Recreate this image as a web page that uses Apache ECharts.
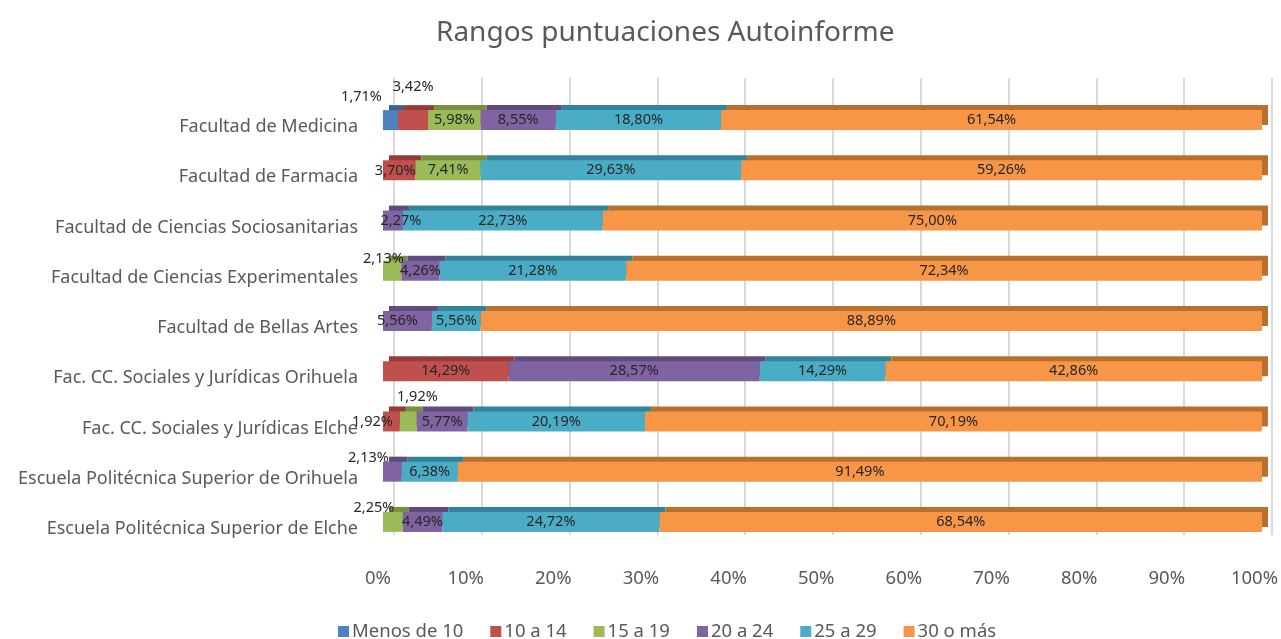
<!DOCTYPE html>
<html>
<head>
<meta charset="utf-8">
<script src="https://cdn.jsdelivr.net/npm/echarts@6/dist/echarts.min.js"></script>
<style>
	html, body { margin: 0; padding: 0; background: #fff; }
	#main { width: 1281px; height: 639px; }
</style>
</head>
<body>
<div id="main"></div>
<script>
var categorias = [
	'Facultad de Medicina',
	'Facultad de Farmacia',
	'Facultad de Ciencias Sociosanitarias',
	'Facultad de Ciencias Experimentales',
	'Facultad de Bellas Artes',
	'Fac. CC. Sociales y Jurídicas Orihuela',
	'Fac. CC. Sociales y Jurídicas Elche',
	'Escuela Politécnica Superior de Orihuela',
	'Escuela Politécnica Superior de Elche'
];
var rangos = ['Menos de 10', '10 a 14', '15 a 19', '20 a 24', '25 a 29', '30 o más'];
var menos10 = [1.71, 0, 0, 0, 0, 0, 0, 0, 0];
var r10a14 = [3.42, 3.70, 0, 0, 0, 14.29, 1.92, 0, 0];
var r15a19 = [5.98, 7.41, 0, 2.13, 0, 0, 1.92, 0, 2.25];
var r20a24 = [8.55, 0, 2.27, 4.26, 5.56, 28.57, 5.77, 2.13, 4.49];
var r25a29 = [18.80, 29.63, 22.73, 21.28, 5.56, 14.29, 20.19, 6.38, 24.72];
var r30mas = [61.54, 59.26, 75.00, 72.34, 88.89, 42.86, 70.19, 91.49, 68.54];
var ticksX = [0, 10, 20, 30, 40, 50, 60, 70, 80, 90, 100];

var valores = [menos10, r10a14, r15a19, r20a24, r25a29, r30mas];
var colores = ['#4f81bd', '#c0504d', '#9bbb59', '#8064a2', '#4bacc6', '#f79646'];
var sombras = ['#3a6392', '#953b39', '#77903f', '#604b7c', '#31849b', '#b8702f'];

// etiquetas que Excel saca fuera del segmento (serie|categoria)
var desplaz = {
	'0|0': [-29, -23],
	'1|0': [0, -33],
	'1|1': [-4, 1],
	'2|3': [-9, -12],
	'3|2': [8, 0],
	'3|4': [-10, 0],
	'1|6': [-19, 0],
	'2|6': [9, -25],
	'3|7': [-24, -14],
	'2|8': [-19, -14]
};

function fmt(v) {
	return v.toFixed(2).replace('.', ',') + '%';
}

var series = valores.map(function (arr, s) {
	return {
		name: rangos[s],
		type: 'bar',
		stack: 'total',
		xAxisIndex: 0,
		yAxisIndex: 0,
		barWidth: 20,
		itemStyle: {
			color: colores[s],
			shadowColor: sombras[s],
			shadowOffsetX: 6,
			shadowOffsetY: -5,
			shadowBlur: 0
		},
		label: {
			show: true,
			position: 'inside',
			color: '#262626',
			fontFamily: 'Noto Sans',
			fontSize: 14.5,
			formatter: function (p) { return fmt(p.value); }
		},
		data: arr.map(function (v, c) {
			if (!v) return '-';
			var off = desplaz[s + '|' + c];
			if (off) return { value: v, label: { offset: off } };
			return v;
		})
	};
});

var myChart = echarts.init(document.getElementById('main'));

var option = {
	animation: false,
	backgroundColor: '#fff',
	title: {
		text: 'Rangos puntuaciones Autoinforme',
		left: 431,
		top: 14,
		textStyle: { fontFamily: 'Noto Sans', fontSize: 28, fontWeight: 'normal', color: '#595959' }
	},
	legend: {
		top: 617,
		left: 333,
		itemWidth: 11,
		itemHeight: 11,
		itemGap: 27,
		icon: 'rect',
		textStyle: { fontFamily: 'Noto Sans', fontSize: 18.5, color: '#595959', padding: [0, 0, 0, -2] },
		itemStyle: { shadowColor: 'transparent', shadowOffsetX: 0, shadowOffsetY: 0 },
		data: rangos
	},
	grid: [
		{ left: 383, right: 19, top: 95, bottom: 92 },
		{ left: 394, right: 9, top: 78, bottom: 104 },
		{ left: 378, right: 26, top: 78, bottom: 79 }
	],
	xAxis: [
		{ gridIndex: 0, type: 'value', min: 0, max: 100, show: false },
		{ gridIndex: 1, type: 'value', min: 0, max: 100, interval: 10,
			axisLine: { show: false }, axisTick: { show: false }, axisLabel: { show: false },
			splitLine: { show: true, lineStyle: { color: '#d9d9d9', width: 2 } } },
		{ gridIndex: 2, type: 'value', min: 0, max: 100, interval: 10,
			axisLine: { show: false }, axisTick: { show: false }, splitLine: { show: false },
			axisLabel: { margin: 9, color: '#595959', fontFamily: 'Noto Sans', fontSize: 18.5,
				formatter: function (v) { return ticksX.indexOf(v) >= 0 ? v + '%' : ''; } } }
	],
	yAxis: [
		{ gridIndex: 0, type: 'category', inverse: true, data: categorias,
			axisLine: { show: false }, axisTick: { show: false },
			axisLabel: { margin: 25, color: '#595959', fontFamily: 'Noto Sans', fontSize: 18,
				verticalAlign: 'top', lineHeight: 14 } },
		{ gridIndex: 1, type: 'category', show: false, data: categorias },
		{ gridIndex: 2, type: 'category', show: false, data: categorias }
	],
	series: series
};

myChart.setOption(option);
</script>
</body>
</html>
